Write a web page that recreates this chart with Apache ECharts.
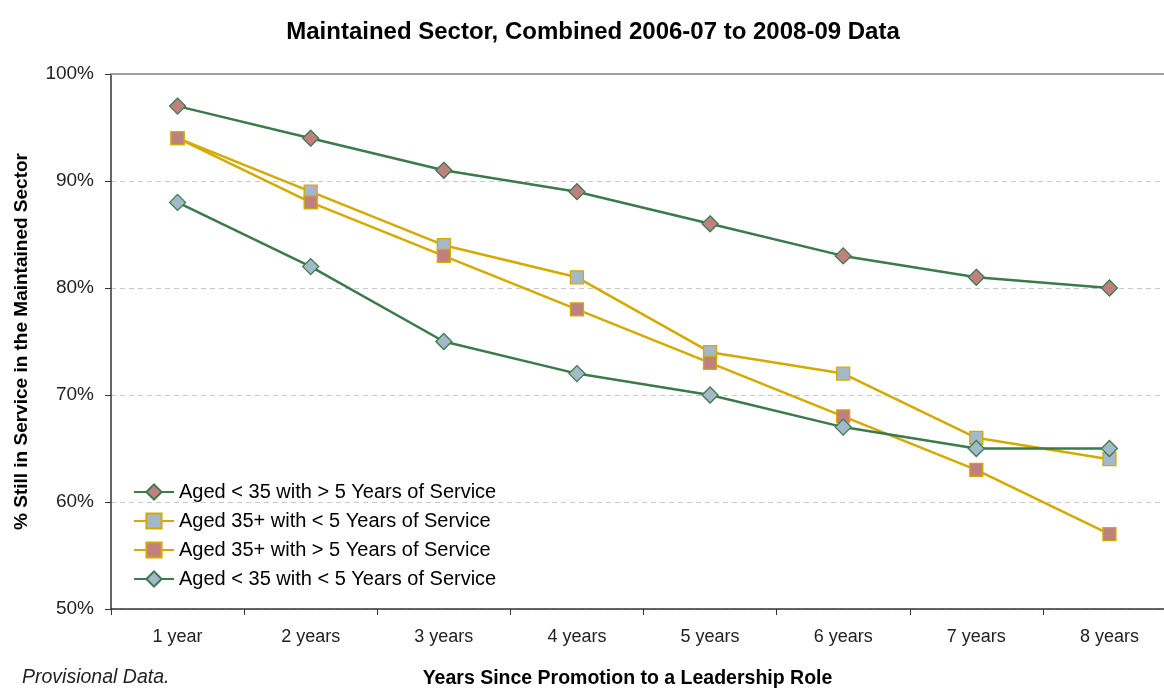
<!DOCTYPE html>
<html>
<head>
<meta charset="utf-8">
<script src="https://cdn.jsdelivr.net/npm/echarts@6/dist/echarts.min.js"></script>
<style>
  html, body { margin: 0; padding: 0; background: #fff; }
  #chart { width: 1164px; height: 688px; }
</style>
</head>
<body>
<div id="chart"></div>
<script>
// Categories and retention rates (%) by years since promotion
const categories = ['1 year', '2 years', '3 years', '4 years', '5 years', '6 years', '7 years', '8 years'];
const under35Over5 = [97, 94, 91, 89, 86, 83, 81, 80];
const over35Under5 = [94, 89, 84, 81, 74, 72, 66, 64];
const over35Over5 = [94, 88, 83, 78, 73, 68, 63, 57];
const under35Under5 = [88, 82, 75, 72, 70, 67, 65, 65];
const seriesNames = [
  'Aged < 35 with > 5 Years of Service',
  'Aged 35+ with < 5 Years of Service',
  'Aged 35+ with > 5 Years of Service',
  'Aged < 35 with < 5 Years of Service'
];
const yTicks = { min: 50, max: 100, interval: 10 };

const green = '#3c7a4c';
const gold = '#d4aa00';
const rose = '#c08080';
const slate = '#a3b9c9';
const font = 'Liberation Sans, Arial, sans-serif';

function lineSeries(name, data, lineColor, fill, symbol, size) {
  return {
    name: name,
    type: 'line',
    data: data,
    symbol: symbol,
    symbolSize: size,
    lineStyle: { color: lineColor, width: 2.5 },
    itemStyle: { color: fill, borderColor: lineColor, borderWidth: 1.3 },
    emphasis: { disabled: true },
    z: 3
  };
}

const chart = echarts.init(document.getElementById('chart'), null, { renderer: 'canvas' });

const s1 = lineSeries(seriesNames[0], under35Over5, green, rose, 'diamond', 16);
// solid top frame line at 100%
s1.markLine = {
  silent: true,
  symbol: 'none',
  label: { show: false },
  lineStyle: { color: '#a0a0a0', type: 'solid', width: 2 },
  data: [{ yAxis: 100 }],
  z: 1
};

chart.setOption({
  animation: false,
  backgroundColor: '#ffffff',
  title: {
    text: 'Maintained Sector, Combined 2006-07 to 2008-09 Data',
    left: 588,
    textAlign: 'center',
    top: 15,
    textStyle: { fontFamily: font, fontSize: 24, fontWeight: 'bold', color: '#000' }
  },
  graphic: [{
    type: 'text',
    left: 22,
    top: 668,
    style: { text: 'Provisional Data.', font: 'italic 19.5px Liberation Sans, Arial, sans-serif', fill: '#222' }
  }],
  legend: {
    orient: 'vertical',
    left: 128,
    top: 477,
    itemWidth: 40,
    itemHeight: 19,
    itemGap: 9,
    data: seriesNames,
    textStyle: { fontFamily: font, fontSize: 20, lineHeight: 20, color: '#000' }
  },
  grid: { left: 111, right: -12, top: 74, bottom: 79, containLabel: false, outerBoundsMode: 'none' },
  xAxis: {
    type: 'category',
    data: categories,
    boundaryGap: true,
    name: 'Years Since Promotion to a Leadership Role',
    nameLocation: 'middle',
    nameGap: 60,
    nameTextStyle: { fontFamily: font, fontSize: 19.5, fontWeight: 'bold', color: '#000', padding: [0, 32, 0, 0] },
    axisLine: { lineStyle: { color: '#333', width: 1.5 } },
    axisTick: { show: true, length: 6, lineStyle: { color: '#333' } },
    axisLabel: { fontFamily: font, fontSize: 18, color: '#222', margin: 19 },
    splitLine: { show: false }
  },
  yAxis: {
    type: 'value',
    min: yTicks.min,
    max: yTicks.max,
    interval: yTicks.interval,
    name: '% Still in Service in the Maintained Sector',
    nameLocation: 'middle',
    nameGap: 80,
    nameTextStyle: { fontFamily: font, fontSize: 19, fontWeight: 'bold', color: '#000' },
    axisLine: { show: true, lineStyle: { color: '#333', width: 1.5 } },
    axisTick: { show: true, length: 6, lineStyle: { color: '#333' } },
    axisLabel: { fontFamily: font, fontSize: 19, color: '#222', margin: 17, formatter: '{value}%' },
    splitLine: { show: true, lineStyle: { color: '#c8c8c8', type: [5, 4], width: 1 } }
  },
  series: [
    s1,
    lineSeries(seriesNames[1], over35Under5, gold, slate, 'rect', 13),
    lineSeries(seriesNames[2], over35Over5, gold, rose, 'rect', 13),
    lineSeries(seriesNames[3], under35Under5, green, slate, 'diamond', 16)
  ]
});
</script>
</body>
</html>
